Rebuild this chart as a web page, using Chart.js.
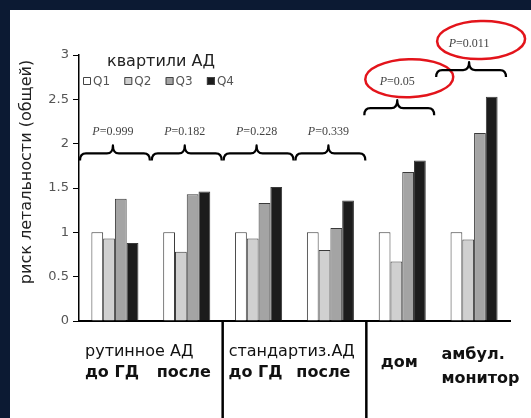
<!DOCTYPE html>
<html>
<head>
<meta charset="utf-8">
<script src="https://cdn.jsdelivr.net/npm/chart.js@4.4.1/dist/chart.umd.min.js"></script>
<style>
    html, body { margin: 0; padding: 0; background: #0c1a33; }
    #wrap { width: 531px; height: 418px; }
</style>
</head>
<body>
<div id="wrap"><canvas id="grafikRisk" width="531" height="418"></canvas></div>
<script>
// Данные графика
const categories = ['до ГД', 'после', 'до ГД', 'после', 'дом', ['амбул.', 'монитор']];
const groupLabels = ['рутинное АД', '', 'стандартиз.АД', '', '', ''];
const quartiles = ['Q1', 'Q2', 'Q3', 'Q4'];
const q1Values = [1.00, 1.00, 1.00, 1.00, 1.00, 1.00];
const q2Values = [0.93, 0.78, 0.93, 0.80, 0.67, 0.92];
const q3Values = [1.38, 1.43, 1.33, 1.05, 1.68, 2.12];
const q4Values = [0.88, 1.46, 1.51, 1.36, 1.81, 2.53];
const pValues = ['0.999', '0.182', '0.228', '0.339', '0.05', '0.011'];
const braceLevels = [1.89, 1.89, 1.89, 1.89, 2.40, 2.83];
const highlighted = [false, false, false, false, true, true];
const dividers = [2, 4];
const yTicks = [0, 0.5, 1, 1.5, 2, 2.5, 3];

const barColors = ['#ffffff', '#d0d0d0', '#a4a4a4', '#1c1c1c'];
const seriesValues = [q1Values, q2Values, q3Values, q4Values];

// Фигурная скобка над группой
function drawBrace(c, x0, x1, xm, y) {
    c.beginPath();
    c.moveTo(x0, y + 7);
    c.quadraticCurveTo(x0, y, x0 + 6, y);
    c.lineTo(xm - 6, y);
    c.quadraticCurveTo(xm, y, xm, y - 8);
    c.quadraticCurveTo(xm, y, xm + 6, y);
    c.lineTo(x1 - 6, y);
    c.quadraticCurveTo(x1, y, x1, y + 7);
    c.stroke();
}

const extras = {
    id: 'extras',
    beforeDraw(chart) {
        const c = chart.ctx;
        c.save();
        c.fillStyle = '#0c1a33';
        c.fillRect(0, 0, chart.width, chart.height);
        c.fillStyle = '#ffffff';
        c.fillRect(10, 10, chart.width - 10, chart.height - 10);
        c.restore();
    },
    afterDraw(chart) {
        const c = chart.ctx;
        const x = chart.scales.x;
        const y = chart.scales.y;
        const area = chart.chartArea;
        const catW = (x.right - x.left) / categories.length;
        c.save();

        // скобки и значения P
        c.strokeStyle = '#000';
        c.lineWidth = 2.2;
        c.lineJoin = 'round';
        categories.forEach((_, i) => {
            const xc = x.getPixelForValue(i);
            const shift = highlighted[i] ? 4 : 1;
            const yb = y.getPixelForValue(braceLevels[i]);
            drawBrace(c, xc - catW / 2 + 1 - shift + 1, xc + catW / 2 - shift, xc - shift - 1, yb);

            const ly = yb - (highlighted[i] ? 26 : 22);
            c.font = 'italic 12px "Liberation Serif"';
            const wP = c.measureText('P').width;
            c.font = '12px "Liberation Serif"';
            const rest = '=' + pValues[i];
            const wR = c.measureText(rest).width;
            const lx = xc - shift - 1 - (wP + wR) / 2;
            c.fillStyle = '#444';
            c.textBaseline = 'middle';
            c.textAlign = 'left';
            c.font = 'italic 12px "Liberation Serif"';
            c.fillText('P', lx, ly);
            c.font = '12px "Liberation Serif"';
            c.fillText(rest, lx + wP, ly);

            if (highlighted[i]) {
                c.beginPath();
                c.strokeStyle = '#e3141b';
                c.lineWidth = 2.5;
                c.ellipse(xc + 7, ly - 4, 44, 19, -0.03, 0, Math.PI * 2);
                c.stroke();
                c.strokeStyle = '#000';
                c.lineWidth = 2.2;
            }
        });

        // легенда
        c.fillStyle = '#222';
        c.font = '16px "DejaVu Sans"';
        c.textAlign = 'left';
        c.textBaseline = 'middle';
        c.fillText('квартили АД', area.left + 28, 62);
        quartiles.forEach((q, i) => {
            const bx = area.left + 4 + i * 41.3;
            c.fillStyle = barColors[i];
            c.fillRect(bx, 77, 8, 8);
            c.strokeStyle = '#444';
            c.lineWidth = 1;
            c.strokeRect(bx + 0.5, 77.5, 7, 7);
            c.fillStyle = '#555';
            c.font = '12px "DejaVu Sans"';
            c.fillText(q, bx + 10, 81.5);
        });

        // разделители под осью
        c.strokeStyle = '#000';
        c.lineWidth = 2.5;
        dividers.forEach(d => {
            const xd = x.getPixelForValue(d) - catW / 2;
            c.beginPath();
            c.moveTo(xd, area.bottom);
            c.lineTo(xd, chart.height);
            c.stroke();
        });

        // подписи категорий
        c.fillStyle = '#111';
        groupLabels.forEach((g, i) => {
            if (!g) return;
            c.font = '16px "DejaVu Sans"';
            c.textAlign = 'left';
            c.fillText(g, x.getPixelForValue(i) - catW / 2 + 6, 352);
        });
        categories.forEach((lab, i) => {
            const xc = x.getPixelForValue(i) - (i === 3 ? 7 : 3);
            c.font = 'bold 16px "DejaVu Sans"';
            if (Array.isArray(lab)) {
                const left = xc - c.measureText(lab[0]).width / 2 + 2;
                c.textAlign = 'left';
                lab.forEach((line, k) => c.fillText(line, left, 355 + k * 24));
            } else {
                c.textAlign = 'center';
                const hasGroup = groupLabels[i] || groupLabels[i - 1];
                c.fillText(lab, xc, hasGroup ? 373 : 363);
            }
        });

        // подпись оси Y
        c.translate(27, 172);
        c.rotate(-Math.PI / 2);
        c.textAlign = 'center';
        c.fillStyle = '#222';
        c.font = '16px "DejaVu Sans"';
        c.fillText('риск летальности (общей)', 0, 0);
        c.restore();
    }
};

const ctx = document.getElementById('grafikRisk').getContext('2d');
window.chart = new Chart(ctx, {
    type: 'bar',
    data: {
        labels: categories.map((_, i) => 'k' + i),
        datasets: quartiles.map((q, i) => ({
            label: q,
            data: seriesValues[i],
            backgroundColor: barColors[i],
            borderColor: '#3a3a3a',
            borderWidth: 1,
            barPercentage: 1,
            categoryPercentage: 0.655
        }))
    },
    options: {
        responsive: false,
        animation: false,
        devicePixelRatio: 1,
        layout: { padding: { left: 0, top: 55, right: 21, bottom: 0 } },
        plugins: {
            legend: { display: false },
            tooltip: { enabled: false }
        },
        scales: {
            x: {
                grid: { display: false },
                border: { display: true, color: '#000', width: 2 },
                ticks: { display: false },
                afterFit: scale => { scale.height = 97; }
            },
            y: {
                min: 0,
                max: 3,
                afterBuildTicks: scale => { scale.ticks = yTicks.map(v => ({ value: v })); },
                grid: { drawOnChartArea: false, drawTicks: true, tickLength: 6, color: '#000' },
                border: { display: true, color: '#000', width: 1.5 },
                ticks: {
                    padding: 4,
                    color: '#555',
                    font: { family: 'DejaVu Sans', size: 13 },
                    callback: v => String(v)
                },
                afterFit: scale => { scale.width = 79; }
            }
        }
    },
    plugins: [extras]
});
</script>
</body>
</html>
